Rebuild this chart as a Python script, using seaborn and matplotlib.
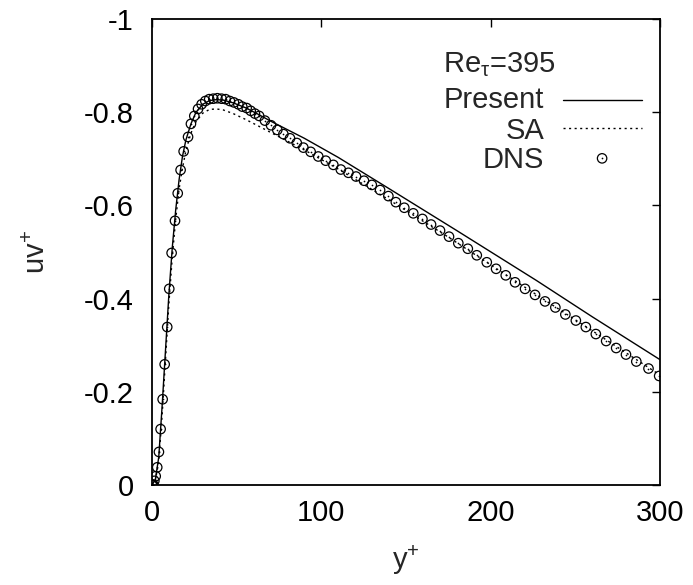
import matplotlib
matplotlib.use("Agg")
import matplotlib.pyplot as plt
import seaborn as sns
import pandas as pd

# ---------------- data ----------------
dns_y = [0.0, 0.2, 0.4, 0.7, 1.4, 2.2, 3.1, 4.1, 5.1, 6.3, 7.5, 9.0, 10.2, 11.6,
         13.6, 15.2, 16.9, 18.7, 21.3, 23.0, 25.0, 27.2, 29.3, 31.5, 33.8, 36.2,
         38.6, 41.1, 43.5, 46.0, 48.4, 51.0, 53.3, 55.9, 58.3, 60.8, 63.3, 66.7,
         70.3, 74.0, 77.6, 81.5, 85.5, 89.4, 93.7, 98.2, 102.6, 107.1, 111.5,
         116.0, 120.5, 125.2, 129.8, 134.7, 139.6, 144.0, 149.0, 154.3, 159.7,
         164.8, 170.1, 175.4, 180.9, 186.5, 191.8, 197.7, 203.2, 208.9, 214.4,
         220.3, 226.2, 232.1, 238.2, 244.1, 250.3, 256.2, 262.1, 268.2, 274.1,
         279.9, 286.0, 293.2, 299.5]
dns_uv = [0.0, 0.0, 0.0, -0.001, -0.009, -0.019, -0.038, -0.071, -0.12, -0.184,
          -0.259, -0.339, -0.421, -0.498, -0.567, -0.626, -0.676, -0.716, -0.747,
          -0.775, -0.792, -0.807, -0.817, -0.824, -0.828, -0.829, -0.830, -0.829,
          -0.828, -0.824, -0.821, -0.817, -0.812, -0.809, -0.803, -0.797, -0.792,
          -0.782, -0.772, -0.762, -0.753, -0.744, -0.734, -0.724, -0.715, -0.705,
          -0.696, -0.687, -0.677, -0.670, -0.662, -0.653, -0.644, -0.633, -0.620,
          -0.607, -0.595, -0.583, -0.571, -0.559, -0.546, -0.533, -0.519, -0.507,
          -0.493, -0.478, -0.464, -0.450, -0.435, -0.421, -0.408, -0.394, -0.381,
          -0.366, -0.353, -0.339, -0.324, -0.309, -0.294, -0.280, -0.265, -0.250,
          -0.234]

present_y = [0, 2, 4, 6, 8, 10, 12, 14, 16, 18, 20, 23, 26, 30, 34, 38, 42, 48,
             55, 62, 70, 90, 110, 140, 180, 227, 260, 300]
present_uv = [0.0, -0.012, -0.06, -0.17, -0.29, -0.41, -0.51, -0.59, -0.655,
              -0.705, -0.74, -0.775, -0.80, -0.817, -0.825, -0.827, -0.826,
              -0.82, -0.81, -0.797, -0.781, -0.744, -0.703, -0.636, -0.546,
              -0.439, -0.361, -0.269]

sa_y = [0, 2, 4, 6, 8, 10, 12, 14, 16, 18, 20, 23, 26, 30, 34, 38, 42, 48, 55,
        62, 72, 90, 110, 140, 175, 220, 260, 300]
sa_uv = [0.0, -0.01, -0.05, -0.15, -0.27, -0.39, -0.49, -0.57, -0.635, -0.68,
         -0.717, -0.755, -0.78, -0.798, -0.806, -0.807, -0.805, -0.797, -0.785,
         -0.772, -0.753, -0.719, -0.678, -0.612, -0.532, -0.425, -0.331, -0.236]

x_ticks = [0, 100, 200, 300]
x_tick_labels = ["0", "100", "200", "300"]
y_ticks = [0, -0.2, -0.4, -0.6, -0.8, -1.0]
y_tick_labels = ["0", "-0.2", "-0.4", "-0.6", "-0.8", "-1"]

title_text = r"Re$_{\tau}$=395"
series_names = ["Present", "SA", "DNS"]

# ---------------- style ----------------
sns.set_style("white")
plt.rcParams["font.family"] = ["Liberation Sans", "DejaVu Sans"]
plt.rcParams["mathtext.fontset"] = "custom"
plt.rcParams["mathtext.rm"] = "Liberation Sans"
plt.rcParams["mathtext.it"] = "Liberation Sans"
plt.rcParams["mathtext.bf"] = "Liberation Sans"
plt.rcParams["axes.unicode_minus"] = False

FS = 21
MS = 46

fig = plt.figure(figsize=(6.93, 5.85), dpi=100)
ax = fig.add_axes([0.2193, 0.1709, 0.9524 - 0.2193, 0.9675 - 0.1709])

df_p = pd.DataFrame({"y": present_y, "uv": present_uv})
df_s = pd.DataFrame({"y": sa_y, "uv": sa_uv})
df_d = pd.DataFrame({"y": dns_y, "uv": dns_uv})

sns.lineplot(data=df_p, x="y", y="uv", ax=ax, color="black", lw=1.0,
             sort=False, estimator=None)
sns.lineplot(data=df_s, x="y", y="uv", ax=ax, color="black", lw=1.0,
             linestyle=(0, (1.5, 2.5)), sort=False, estimator=None)
sns.scatterplot(data=df_d, x="y", y="uv", ax=ax, s=MS, facecolor="none",
                edgecolor="black", linewidth=0.9, marker="o", zorder=3)
sns.scatterplot(data=df_d, x="y", y="uv", ax=ax, s=1.5, color="black",
                linewidth=0, marker="o", zorder=4)

ax.set_xlim(0, 300)
ax.set_ylim(0, -1)
ax.set_xticks(x_ticks)
ax.set_xticklabels(x_tick_labels)
ax.set_yticks(y_ticks)
ax.set_yticklabels(y_tick_labels)
ax.tick_params(axis="both", which="major", direction="in", length=6,
               width=1.0, top=True, right=True, labelsize=FS,
               colors="black")
ax.tick_params(axis="x", pad=10)
ax.tick_params(axis="y", pad=13)
for sp in ax.spines.values():
    sp.set_color("black")
    sp.set_linewidth(1.3)

ax.set_xlabel(r"y$^{+}$", fontsize=FS, labelpad=12)
ax.set_ylabel(r"uv$^{+}$", fontsize=FS, labelpad=24)

# ---------------- legend (gnuplot style) ----------------
tr = ax.transAxes
ax.text(0.573, 0.886, title_text, transform=tr, fontsize=FS, ha="left",
        va="baseline")
rows_text_y = [0.8083, 0.7425, 0.680]
rows_mark_y = [0.8255, 0.7654, 0.701]
for name, ty in zip(series_names, rows_text_y):
    ax.text(0.7717, ty, name, transform=tr, fontsize=FS, ha="right",
            va="baseline")
ax.plot([0.809, 0.965], [rows_mark_y[0]] * 2, transform=tr, color="black",
        lw=1.0)
ax.plot([0.809, 0.965], [rows_mark_y[1]] * 2, transform=tr, color="black",
        lw=1.0, linestyle=(0, (1.5, 2.5)))
ax.scatter([0.886], [rows_mark_y[2]], transform=tr, s=MS, facecolor="none",
           edgecolor="black", linewidth=0.9, zorder=5)
ax.scatter([0.886], [rows_mark_y[2]], transform=tr, s=1.5, color="black",
           linewidth=0, zorder=6)

fig.savefig("out.png", dpi=100)
